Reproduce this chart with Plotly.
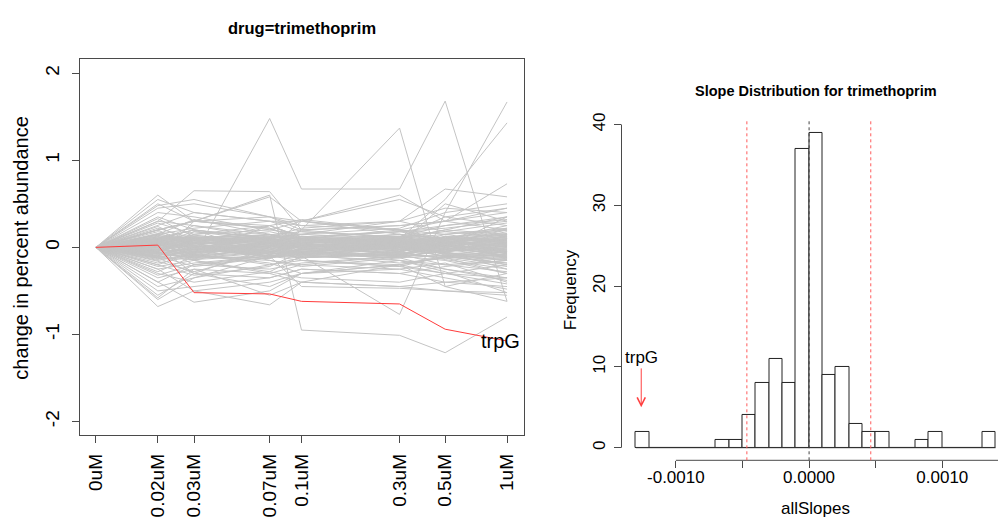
import plotly.graph_objects as go

# ---------------- data ----------------
conc = [0, 0.02, 0.03, 0.07, 0.1, 0.3, 0.5, 1]
conc_labels = ["0uM", "0.02uM", "0.03uM", "0.07uM", "0.1uM", "0.3uM", "0.5uM", "1uM"]
zero_stand_in = 0.01  # the 0uM dose is drawn at 0.01 on the log axis

# change in percent abundance per gene (values at 0.02 ... 1uM; 0uM is always 0)
gray_profiles = [
    [0.05, -0.10, 1.48, 0.67, 0.67, 1.68, -0.62],
    [0.10, 0.05, -0.10, 0.20, 1.37, -0.45, -0.30],
    [-0.05, 0.10, 0.05, -0.10, -0.77, 0.40, 1.67],
    [0.10, 0.20, 0.10, 0.00, 0.10, 0.55, 1.43],
    [0.20, 0.30, 0.60, -0.95, -1.01, -1.21, -0.80],
    [0.05, 0.10, 0.00, 0.10, 0.20, 0.30, 0.73],
    [0.10, 0.20, 0.10, 0.15, 0.30, 0.67, 0.58],
    [0.30, 0.65, 0.64, 0.20, 0.10, 0.00, 0.10],
    [0.60, 0.30, 0.25, 0.10, 0.00, 0.10, 0.20],
    [-0.68, -0.50, -0.40, -0.30, -0.20, -0.30, -0.35],
    [-0.40, -0.63, -0.50, -0.30, -0.20, -0.10, -0.20],
    [-0.25, -0.50, -0.66, -0.40, -0.45, -0.50, -0.55],
    [0.20, 0.30, 0.58, 0.30, 0.60, 0.30, 0.40],
    [-0.60, -0.35, -0.10, -0.45, -0.47, -0.50, -0.52],
    [0.48, 0.55, 0.35, 0.30, 0.55, 0.35, 0.45],
    [-0.58, -0.25, -0.55, -0.40, -0.20, -0.45, -0.62],
    [0.00, -0.30, 0.00, 0.30, 0.20, 0.00, 0.35],
    [0.12, 0.05, 0.08, -0.02, 0.04, -0.06, 0.10],
    [-0.08, -0.12, -0.05, 0.03, -0.07, 0.02, -0.11],
    [0.05, 0.18, 0.12, 0.07, 0.10, 0.15, 0.22],
    [-0.15, -0.08, -0.20, -0.12, -0.05, -0.14, -0.25],
    [0.22, 0.10, 0.05, 0.12, 0.08, 0.03, -0.04],
    [-0.03, 0.02, -0.10, -0.06, 0.02, -0.08, -0.02],
    [0.30, 0.25, 0.15, 0.10, 0.18, 0.22, 0.30],
    [-0.25, -0.18, -0.10, -0.15, -0.22, -0.30, -0.42],
    [0.08, -0.05, 0.02, 0.05, -0.03, 0.06, 0.01],
    [0.15, 0.22, 0.30, 0.18, 0.12, 0.05, 0.15],
    [-0.10, 0.05, 0.10, -0.08, -0.12, -0.02, 0.05],
    [0.02, -0.20, -0.25, -0.18, -0.10, -0.15, -0.30],
    [0.40, 0.35, 0.20, 0.15, 0.10, 0.20, 0.35],
    [-0.35, -0.25, -0.30, -0.20, -0.25, -0.18, -0.40],
    [0.10, 0.12, 0.02, 0.20, 0.25, 0.30, 0.45],
    [-0.05, -0.15, 0.05, 0.00, 0.08, 0.12, -0.08],
    [0.18, 0.08, -0.08, -0.05, 0.00, -0.10, -0.18],
    [-0.20, -0.05, 0.02, 0.10, 0.05, 0.00, 0.12],
    [0.25, 0.40, 0.30, 0.25, 0.20, 0.15, 0.05],
    [-0.12, -0.30, -0.35, -0.25, -0.30, -0.22, -0.15],
    [0.06, 0.10, 0.18, 0.10, -0.05, 0.05, 0.18],
    [-0.02, 0.08, -0.02, -0.10, -0.15, -0.20, -0.28],
    [0.35, 0.20, 0.10, 0.05, 0.15, 0.10, 0.25],
    [-0.40, -0.20, -0.10, -0.05, -0.10, -0.05, 0.02],
    [0.10, -0.02, 0.12, 0.15, 0.22, 0.40, 0.50],
    [-0.18, -0.10, -0.15, -0.22, -0.12, -0.25, -0.35],
    [0.02, 0.15, 0.25, 0.12, 0.18, 0.08, -0.05],
    [-0.06, -0.02, 0.06, 0.02, -0.04, 0.04, 0.08],
    [0.14, 0.02, -0.12, -0.08, -0.18, -0.12, -0.22],
    [-0.30, -0.40, -0.28, -0.10, 0.00, 0.05, -0.10],
    [0.20, 0.30, 0.35, 0.25, 0.30, 0.45, 0.40],
    [0.04, -0.08, -0.18, -0.30, -0.25, -0.35, -0.48],
    [-0.45, -0.35, -0.20, -0.15, -0.22, -0.10, -0.05],
    [0.50, 0.30, 0.22, 0.10, 0.05, 0.00, 0.10],
    [0.00, 0.05, 0.00, 0.08, 0.12, 0.18, 0.28],
    [-0.10, -0.22, -0.12, 0.05, 0.10, 0.20, 0.15],
    [0.08, 0.12, 0.05, -0.12, -0.08, -0.02, -0.12],
    [-0.22, -0.15, -0.28, -0.35, -0.40, -0.30, -0.20],
    [0.28, 0.15, 0.20, 0.30, 0.20, 0.10, 0.22],
    [-0.05, 0.10, 0.15, 0.05, -0.02, -0.10, -0.15],
    [0.12, -0.10, -0.05, 0.02, 0.12, 0.25, 0.35],
    [-0.14, 0.00, -0.08, -0.02, -0.10, 0.02, -0.05],
    [0.45, 0.50, 0.35, 0.20, 0.25, 0.30, 0.20],
    [-0.50, -0.45, -0.35, -0.25, -0.30, -0.40, -0.45],
    [0.03, -0.03, 0.12, 0.22, 0.30, 0.18, 0.12],
    [-0.08, 0.18, 0.08, -0.15, -0.20, -0.12, -0.30],
    [0.16, 0.05, -0.15, -0.20, -0.10, 0.05, 0.20],
    [-0.28, -0.10, 0.05, 0.12, 0.18, 0.25, 0.32],
    [0.07, 0.25, 0.10, 0.00, -0.08, -0.20, -0.15],
    [-0.02, -0.06, -0.02, 0.04, 0.00, -0.04, 0.02],
    [0.55, 0.40, 0.30, 0.30, 0.15, 0.10, 0.05],
    [-0.55, -0.30, -0.45, -0.30, -0.15, -0.25, -0.38],
    [0.20, 0.00, 0.10, -0.05, 0.05, 0.08, -0.02],
    [-0.16, -0.28, -0.05, -0.12, -0.05, 0.10, 0.00],
    [0.10, 0.20, -0.08, 0.08, 0.15, -0.05, -0.20],
    [0.00, -0.12, 0.02, -0.03, 0.06, -0.02, 0.06],
    [0.24, 0.05, 0.25, 0.12, -0.02, 0.12, 0.08],
    [-0.04, 0.06, 0.14, 0.18, 0.12, 0.35, 0.25],
    [-0.32, -0.20, -0.12, -0.02, -0.15, -0.28, -0.52],
    [0.06, -0.15, -0.30, -0.40, -0.45, -0.40, -0.35],
    [0.33, 0.12, 0.05, -0.02, 0.02, -0.05, 0.14],
    [-0.10, 0.30, 0.22, 0.08, 0.02, 0.12, 0.06],
    [0.02, 0.04, -0.04, -0.06, 0.04, 0.50, 0.30],
    [-0.06, -0.05, 0.25, 0.32, 0.20, 0.08, -0.12],
    [0.10, 0.08, 0.10, 0.04, -0.06, -0.12, -0.08],
    [-0.20, -0.32, -0.22, -0.05, 0.05, -0.05, -0.25],
    [0.15, 0.32, 0.15, 0.10, 0.08, 0.00, -0.10],
    [-0.12, -0.02, -0.10, -0.08, 0.00, 0.15, 0.20],
    [0.04, 0.00, 0.04, 0.02, -0.02, 0.02, -0.03],
    [-0.03, -0.08, 0.02, 0.06, 0.04, -0.02, 0.04],
    [0.09, 0.03, -0.06, 0.01, 0.07, -0.09, -0.14],
    [-0.07, 0.09, 0.04, -0.04, -0.09, 0.08, 0.12],
    [0.13, -0.07, 0.07, 0.09, 0.03, -0.03, -0.06],
    [-0.11, -0.04, -0.07, 0.07, 0.09, 0.06, 0.10],
    [0.01, 0.11, 0.09, -0.09, 0.01, -0.11, -0.18],
    [-0.01, -0.10, -0.13, -0.01, -0.06, 0.09, 0.16],
    [0.11, 0.06, 0.03, 0.05, 0.08, 0.02, 0.05],
    [-0.04, -0.02, -0.08, -0.03, -0.01, -0.06, -0.10],
    [0.07, 0.13, 0.10, 0.02, -0.04, 0.03, 0.09],
    [-0.09, -0.05, 0.01, -0.05, 0.03, 0.07, -0.03],
    [0.03, -0.09, -0.03, 0.08, 0.11, 0.05, 0.13],
    [0.15, 0.09, 0.12, 0.10, 0.06, 0.11, 0.03],
    [-0.12, -0.14, -0.09, -0.11, -0.08, -0.12, -0.07],
    [0.06, 0.01, -0.01, -0.07, -0.10, -0.04, 0.01],
    [-0.02, 0.04, 0.08, 0.12, 0.07, 0.01, -0.07],
    [0.10, 0.14, 0.06, -0.01, 0.05, 0.09, 0.14],
    [-0.06, -0.11, -0.12, -0.06, -0.12, -0.09, -0.13],
    [0.02, 0.07, 0.11, 0.06, 0.02, -0.07, -0.11],
    [0.08, -0.03, 0.03, 0.10, 0.13, 0.10, 0.07],
    [-0.10, 0.02, -0.04, -0.10, -0.05, 0.04, 0.09],
    [0.12, 0.10, 0.00, 0.03, -0.03, -0.05, 0.00],
    [-0.07, -0.06, 0.06, 0.00, 0.06, 0.12, 0.15],
    [0.05, 0.02, -0.10, -0.12, -0.07, -0.01, -0.05],
    [-0.13, -0.09, -0.03, 0.03, 0.01, -0.07, -0.15],
    [0.09, 0.11, 0.14, 0.08, 0.10, 0.06, 0.11],
    [0.00, -0.04, 0.05, -0.08, 0.09, 0.00, -0.09],
    [0.04, 0.08, -0.02, 0.09, -0.05, 0.13, 0.04],
    [-0.08, 0.00, -0.11, -0.04, -0.11, -0.03, -0.01],
    [0.14, 0.04, 0.07, 0.13, 0.04, 0.07, 0.12],
    [-0.05, -0.13, -0.06, 0.04, -0.09, -0.10, -0.04],
    [0.01, 0.06, 0.12, -0.02, 0.00, 0.04, 0.07],
    [0.07, -0.01, -0.05, 0.06, 0.08, -0.08, -0.12],
    [-0.03, 0.12, 0.02, -0.07, 0.12, 0.08, 0.02],
    [0.10, 0.05, 0.09, 0.01, -0.08, 0.01, 0.10],
    [-0.11, -0.07, 0.00, 0.08, 0.03, 0.05, -0.06],
    [0.06, 0.09, -0.07, -0.05, 0.02, -0.02, 0.03],
]

highlight_gene = "trpG"
highlight_profile = [0.026, -0.52, -0.535, -0.62, -0.65, -0.94, -1.075]

# slope histogram
bin_starts = [-0.0013, -0.0012, -0.0011, -0.0010, -0.0009, -0.0008, -0.0007, -0.0006,
              -0.0005, -0.0004, -0.0003, -0.0002, -0.0001, 0.0000, 0.0001, 0.0002,
              0.0003, 0.0004, 0.0005, 0.0006, 0.0007, 0.0008, 0.0009, 0.0010,
              0.0011, 0.0012, 0.0013]
bin_counts = [2, 0, 0, 0, 0, 0, 1, 1, 4, 8, 11, 8, 37, 39, 9, 10, 3, 2, 2, 0, 0, 1, 2, 0, 0, 0, 2]
bin_width = 0.0001
mean_slope = 0.0
cutoffs = [-0.000467, 0.000463]
trpG_slope = -0.00126
arrow_from, arrow_to = 10, 5

# ---------------- figure ----------------
W, H = 998, 519
FONT = "Liberation Sans, Arial, Helvetica, sans-serif"

xplot = [c if c > 0 else zero_stand_in for c in conc]

fig = go.Figure()
for prof in gray_profiles:
    fig.add_trace(go.Scatter(x=xplot, y=[0] + prof, mode="lines",
                             line=dict(color="#C4C4C4", width=1),
                             hoverinfo="skip", showlegend=False,
                             xaxis="x", yaxis="y"))
fig.add_trace(go.Scatter(x=xplot, y=[0] + highlight_profile, mode="lines",
                         line=dict(color="#FF3B3B", width=1),
                         showlegend=False, xaxis="x", yaxis="y"))

centers = [b + bin_width / 2 for b in bin_starts]
fig.add_trace(go.Scatter(x=[bin_starts[0], bin_starts[-1] + bin_width], y=[0, 0],
                         mode="lines", line=dict(color="#333333", width=1),
                         showlegend=False, xaxis="x2", yaxis="y2", hoverinfo="skip"))
fig.add_trace(go.Bar(x=centers, y=bin_counts, width=bin_width,
                     marker=dict(color="white", line=dict(color="#222222", width=1)),
                     showlegend=False, xaxis="x2", yaxis="y2"))

# domains in pixels
Lx0, Lx1, Ly_top, Ly_bot = 79.5, 523.5, 53, 434.3
Rx0, Ry_top, Ry_bot = 621.5, 114.5, 459.5

axis_col = "#4a4a4a"
ytick_vals = [-2, -1, 0, 1, 2]
fig.update_layout(
    width=W, height=H, margin=dict(l=0, r=0, t=0, b=0),
    paper_bgcolor="white", plot_bgcolor="white",
    font=dict(family=FONT, color="black"),
    bargap=0,
    xaxis=dict(domain=[Lx0 / W, Lx1 / W], type="log", range=[-2.08, 0.08],
               tickvals=xplot, ticktext=conc_labels, tickangle=-90,
               tickfont=dict(size=19), ticks="outside", ticklen=7, tickcolor=axis_col,
               showline=True, mirror=True, linecolor=axis_col, linewidth=1,
               showgrid=False, zeroline=False, anchor="y", ticklabelstandoff=3),
    yaxis=dict(domain=[(H - Ly_bot) / H, (H - Ly_top) / H], range=[-2.16, 2.16],
               tickvals=ytick_vals, ticktext=[str(v) for v in ytick_vals],
               tickangle=-90, tickfont=dict(size=19),
               ticks="outside", ticklen=7, tickcolor=axis_col,
               showline=True, mirror=True, linecolor=axis_col, linewidth=1,
               showgrid=False, zeroline=False, anchor="x", ticklabelstandoff=5),
    xaxis2=dict(domain=[Rx0 / W, 1.0], range=[-0.001408, 0.001418],
                tickvals=[-0.001, -0.0005, 0, 0.0005, 0.001],
                ticktext=["-0.0010", "", "0.0000", "", "0.0010"],
                tickfont=dict(size=17), ticks="outside", ticklen=7, tickcolor=axis_col,
                showline=False, showgrid=False, zeroline=False, anchor="y2",
                ticklabelstandoff=-6),
    yaxis2=dict(domain=[(H - Ry_bot) / H, (H - Ry_top) / H], range=[-1.56, 40.56],
                tickvals=[0, 10, 20, 30, 40], tickangle=-90, tickfont=dict(size=17),
                ticks="outside", ticklen=7, tickcolor=axis_col,
                showline=False, showgrid=False, zeroline=False, anchor="x2",
                ticklabelstandoff=2),
)

# R-style axis lines for the histogram
fig.add_shape(type="line", xref="x2", yref="y2 domain", x0=-0.001, x1=0.0015, y0=0, y1=0,
              line=dict(color=axis_col, width=1))
fig.add_shape(type="line", xref="x2 domain", yref="y2", x0=0, x1=0, y0=0, y1=40,
              line=dict(color=axis_col, width=1))
# reference lines
fig.add_shape(type="line", xref="x2", yref="y2 domain", x0=mean_slope, x1=mean_slope,
              y0=0, y1=1, line=dict(color="#444444", width=1, dash="3px,3px"))
for c in cutoffs:
    fig.add_shape(type="line", xref="x2", yref="y2 domain", x0=c, x1=c, y0=0, y1=1,
                  line=dict(color="#FF5A5A", width=1, dash="3px,3px"))

# annotations
fig.add_annotation(x=0, y=highlight_profile[-1], xref="x", yref="y", text=highlight_gene,
                   showarrow=False, font=dict(size=20), xanchor="center", yanchor="middle",
                   xshift=-7)
fig.add_annotation(x=trpG_slope, y=arrow_to, ax=trpG_slope, ay=arrow_from,
                   xref="x2", yref="y2", axref="x2", ayref="y2", text="",
                   showarrow=True, arrowhead=5, arrowsize=1.6, arrowwidth=1,
                   arrowcolor="#FF4040")
fig.add_annotation(x=trpG_slope, y=arrow_from, xref="x2", yref="y2", text=highlight_gene,
                   showarrow=False, font=dict(size=17), xanchor="center", yanchor="bottom",
                   yshift=-2)

def ann(text, px, py, size, bold=False, angle=0):
    fig.add_annotation(x=px / W, y=1 - py / H, xref="paper", yref="paper",
                       text=f"<b>{text}</b>" if bold else text, showarrow=False,
                       font=dict(size=size), textangle=angle,
                       xanchor="center", yanchor="middle")

ann("drug=trimethoprim", 301.5, 21, 16.5, bold=True)
ann("change in percent abundance", 21, 244, 20, angle=-90)
ann("Slope Distribution for trimethoprim", 815.5, 85, 14.5, bold=True)
ann("Frequency", 570, 287, 17, angle=-90)
ann("allSlopes", 815.5, 508, 17)

fig.write_html("out.html")
